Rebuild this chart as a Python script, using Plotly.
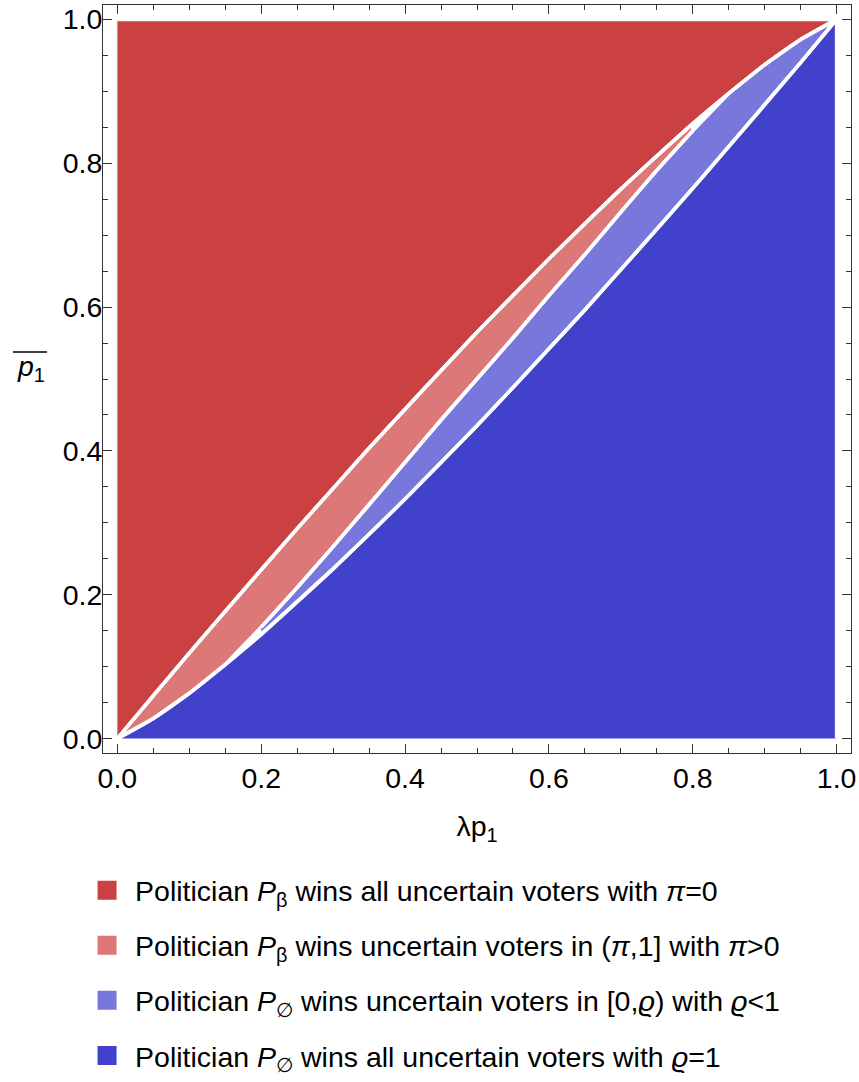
import numpy as np
import plotly.graph_objects as go

# ---- data ----
x_grid = [0.0, 0.05, 0.10, 0.15, 0.20, 0.25, 0.30, 0.35, 0.40, 0.45, 0.50,
          0.55, 0.60, 0.65, 0.70, 0.75, 0.80, 0.85, 0.90, 0.95, 1.0]
# upper boundary (dark red / light red)
upper_U = [0.0, 0.060, 0.119, 0.177, 0.235, 0.292, 0.348, 0.404, 0.458, 0.512, 0.565,
           0.616, 0.667, 0.716, 0.764, 0.810, 0.855, 0.897, 0.937, 0.972, 1.0]
# lower boundary (light blue / blue)
lower_L = [0.0, 0.028, 0.063, 0.103, 0.145, 0.190, 0.236, 0.284, 0.333, 0.384, 0.435,
           0.488, 0.542, 0.596, 0.652, 0.708, 0.765, 0.823, 0.881, 0.940, 1.0]
# middle boundary (light red / light blue)
middle_M = [None, None, None, 0.098, 0.155, 0.210, 0.267, 0.325, 0.384, 0.443, 0.500,
            0.557, 0.616, 0.673, 0.732, 0.790, 0.845, 0.902, None, None, None]
light_red_max_x = 0.8
light_blue_min_x = 0.2

labels = [
    "Politician <i>P</i><sub>β</sub> wins all uncertain voters with <i>π</i>=0",
    "Politician <i>P</i><sub>β</sub> wins uncertain voters in (<i>π</i>,1] with <i>π</i>&gt;0",
    "Politician <i>P</i><sub>∅</sub> wins uncertain voters in [0,<i>ϱ</i>) with <i>ϱ</i>&lt;1",
    "Politician <i>P</i><sub>∅</sub> wins all uncertain voters with <i>ϱ</i>=1",
]
colors = ["#CB4141", "#DC7878", "#7878DC", "#4141CB"]

x_ticks = [0.0, 0.2, 0.4, 0.6, 0.8, 1.0]
tick_text = ["0.0", "0.2", "0.4", "0.6", "0.8", "1.0"]

# ---- build regions ----
x = np.array(x_grid)
U = np.array(upper_U)
L = np.array(lower_L)
M = np.array([np.nan if v is None else v for v in middle_M])
red_lo = np.fmax(L, M)
blue_hi = np.fmin(U, M)
mr = x <= light_red_max_x + 1e-9
mb = x >= light_blue_min_x - 1e-9
mm = mr & mb

regions = [
    (list(x) + [0.0], list(U) + [1.0]),
    (list(x[mr]) + list(x[mr][::-1]), list(U[mr]) + list(red_lo[mr][::-1])),
    (list(x[mb]) + list(x[mb][::-1]), list(L[mb]) + list(blue_hi[mb][::-1])),
    (list(x) + [1.0], list(L) + [0.0]),
]

FONT = "Liberation Sans, Arial, sans-serif"
FS = 28.5
fig = go.Figure()
for (xs, ys), c in zip(regions, colors):
    fig.add_trace(go.Scatter(x=xs, y=ys, fill="toself", fillcolor=c, mode="lines",
                             line=dict(color="white", width=3.5), showlegend=False,
                             hoverinfo="skip"))
# smooth white boundary curves on top
for bx, by in [(x, U), (x, L), (x[mm], M[mm])]:
    fig.add_trace(go.Scatter(x=list(bx), y=list(by), mode="lines",
                             line=dict(color="white", width=3.5, shape="spline", smoothing=0.8),
                             showlegend=False, hoverinfo="skip"))
for i, (lab, c) in enumerate(zip(labels, colors)):
    fig.add_trace(go.Scatter(x=[None], y=[None], mode="markers", name=lab,
                             legendgroup=f"g{i}",
                             marker=dict(symbol="square", size=16, color=c,
                                         line=dict(color=c, width=3))))

axis_common = dict(
    range=[-0.02, 1.02], showgrid=False, zeroline=False, automargin=False,
    showline=True, linecolor="#333", linewidth=1, mirror="ticks",
    ticks="inside", ticklen=9, tickwidth=1, tickcolor="#333",
    tickvals=x_ticks, ticktext=tick_text,
    tickfont=dict(family=FONT, size=FS, color="black"),
    minor=dict(ticks="inside", ticklen=5, tickwidth=1, tickcolor="#333", dtick=0.05,
               tick0=0, showgrid=False),
)
fig.update_xaxes(**axis_common,
                 title=dict(text="λp<sub>1</sub>", font=dict(family=FONT, size=FS, color="black"),
                            standoff=22))
fig.update_yaxes(**axis_common, ticklabelstandoff=-6)

fig.add_annotation(xref="paper", yref="paper", x=-0.1176, y=0.515, xanchor="left",
                   yanchor="middle", showarrow=False,
                   text="<i>p</i><sub>1</sub>", font=dict(family=FONT, size=FS, color="black"))
fig.add_shape(type="line", xref="paper", yref="paper", x0=-0.1203, x1=-0.0749,
              y0=0.536, y1=0.536, line=dict(color="black", width=1.5))

fig.update_layout(
    width=859, height=1082,
    margin=dict(l=103, r=8, t=5, b=329, autoexpand=False),
    plot_bgcolor="white", paper_bgcolor="white",
    legend=dict(x=-0.032, y=-0.15, xanchor="left", yanchor="top", itemwidth=46,
                font=dict(family=FONT, size=FS, color="black"),
                tracegroupgap=15, bgcolor="rgba(0,0,0,0)"),
)
fig.write_html("out.html", config={"displayModeBar": False},
               post_script="document.body.style.margin='0px';")
